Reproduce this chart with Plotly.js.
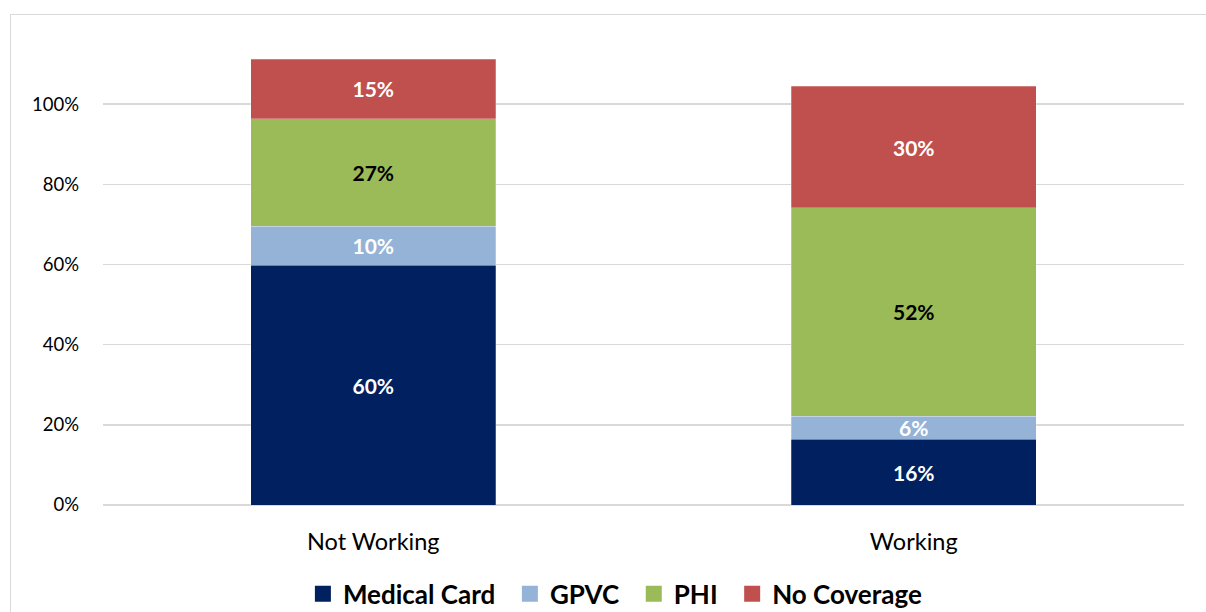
<!DOCTYPE html>
<html>
<head>
<meta charset="utf-8">
<script src="https://cdn.plot.ly/plotly-3.0.1.min.js"></script>
<style>
html,body{margin:0;padding:0;background:#fff;}
#chart{position:absolute;left:0;top:0;width:1206px;height:612px;}
#frame{position:absolute;left:10px;top:14px;width:1300px;height:700px;border:1.5px solid #d9d9d9;pointer-events:none;}
</style>
</head>
<body>
<div id="chart"></div>
<div id="frame"></div>
<script>
const categories = ["Not Working", "Working"];
const seriesNames = ["Medical Card", "GPVC", "PHI", "No Coverage"];
const medicalCard = [59.8, 16.4];
const gpvc = [9.7, 5.7];
const phi = [26.9, 52.1];
const noCoverage = [14.8, 30.2];
const yTickVals = [0, 20, 40, 60, 80, 100];
const yTickText = ["0%", "20%", "40%", "60%", "80%", "100%"];

const colors = ["#002060", "#95B3D7", "#9BBB59", "#C0504D"];
const labelColors = ["#ffffff", "#ffffff", "#000000", "#ffffff"];
const values = [medicalCard, gpvc, phi, noCoverage];
const FONT = "Lato, 'Open Sans', sans-serif";

const barTraces = values.map((v, i) => ({
  type: "bar",
  name: seriesNames[i],
  x: categories,
  y: v,
  showlegend: false,
  marker: {color: colors[i], line: {color: "rgba(255,255,255,0.5)", width: 0.5}},
  texttemplate: "%{y:.0f}%",
  textposition: "inside",
  insidetextanchor: "middle",
  textangle: 0,
  constraintext: "none",
  textfont: {family: FONT, size: 21, color: labelColors[i], weight: "bold"},
  hoverinfo: "skip"
}));

// legend-only entries with larger square swatches (extra spacing between items)
const legendTraces = seriesNames.map((n, i) => ({
  type: "scatter",
  mode: "markers",
  name: i < seriesNames.length - 1 ? n + "\u00a0\u2009" : n,
  x: [null], y: [null],
  marker: {symbol: "square", size: 16, color: colors[i]},
  hoverinfo: "skip"
}));

const layout = {
  width: 1206, height: 612,
  margin: {l: 103, r: 22, t: 44, b: 107, autoexpand: false},
  paper_bgcolor: "#ffffff", plot_bgcolor: "#ffffff",
  barmode: "stack",
  bargap: 0.547,
  showlegend: true,
  legend: {
    orientation: "h", x: 0.474, xanchor: "center", y: -0.193, yanchor: "middle",
    font: {family: FONT, size: 26, color: "#000000", weight: "bold"},
    traceorder: "normal", itemwidth: 30, itemclick: false
  },
  xaxis: {
    tickfont: {family: FONT, size: 23.5, color: "#000000"},
    showgrid: false, showline: false, ticks: "", ticklen: 0,
    ticklabelstandoff: 20
  },
  yaxis: {
    range: [0, 115],
    tickvals: yTickVals, ticktext: yTickText,
    tickfont: {family: FONT, size: 18.5, color: "#000000"},
    showgrid: true, gridcolor: "#d9d9d9", gridwidth: 1.5,
    zeroline: true, zerolinecolor: "#d9d9d9", zerolinewidth: 1.5,
    showline: false, ticks: "", ticklabelstandoff: 23
  },
  font: {family: FONT}
};

Plotly.newPlot("chart", barTraces.concat(legendTraces), layout, {displayModeBar: false, staticPlot: true});
</script>
</body>
</html>
